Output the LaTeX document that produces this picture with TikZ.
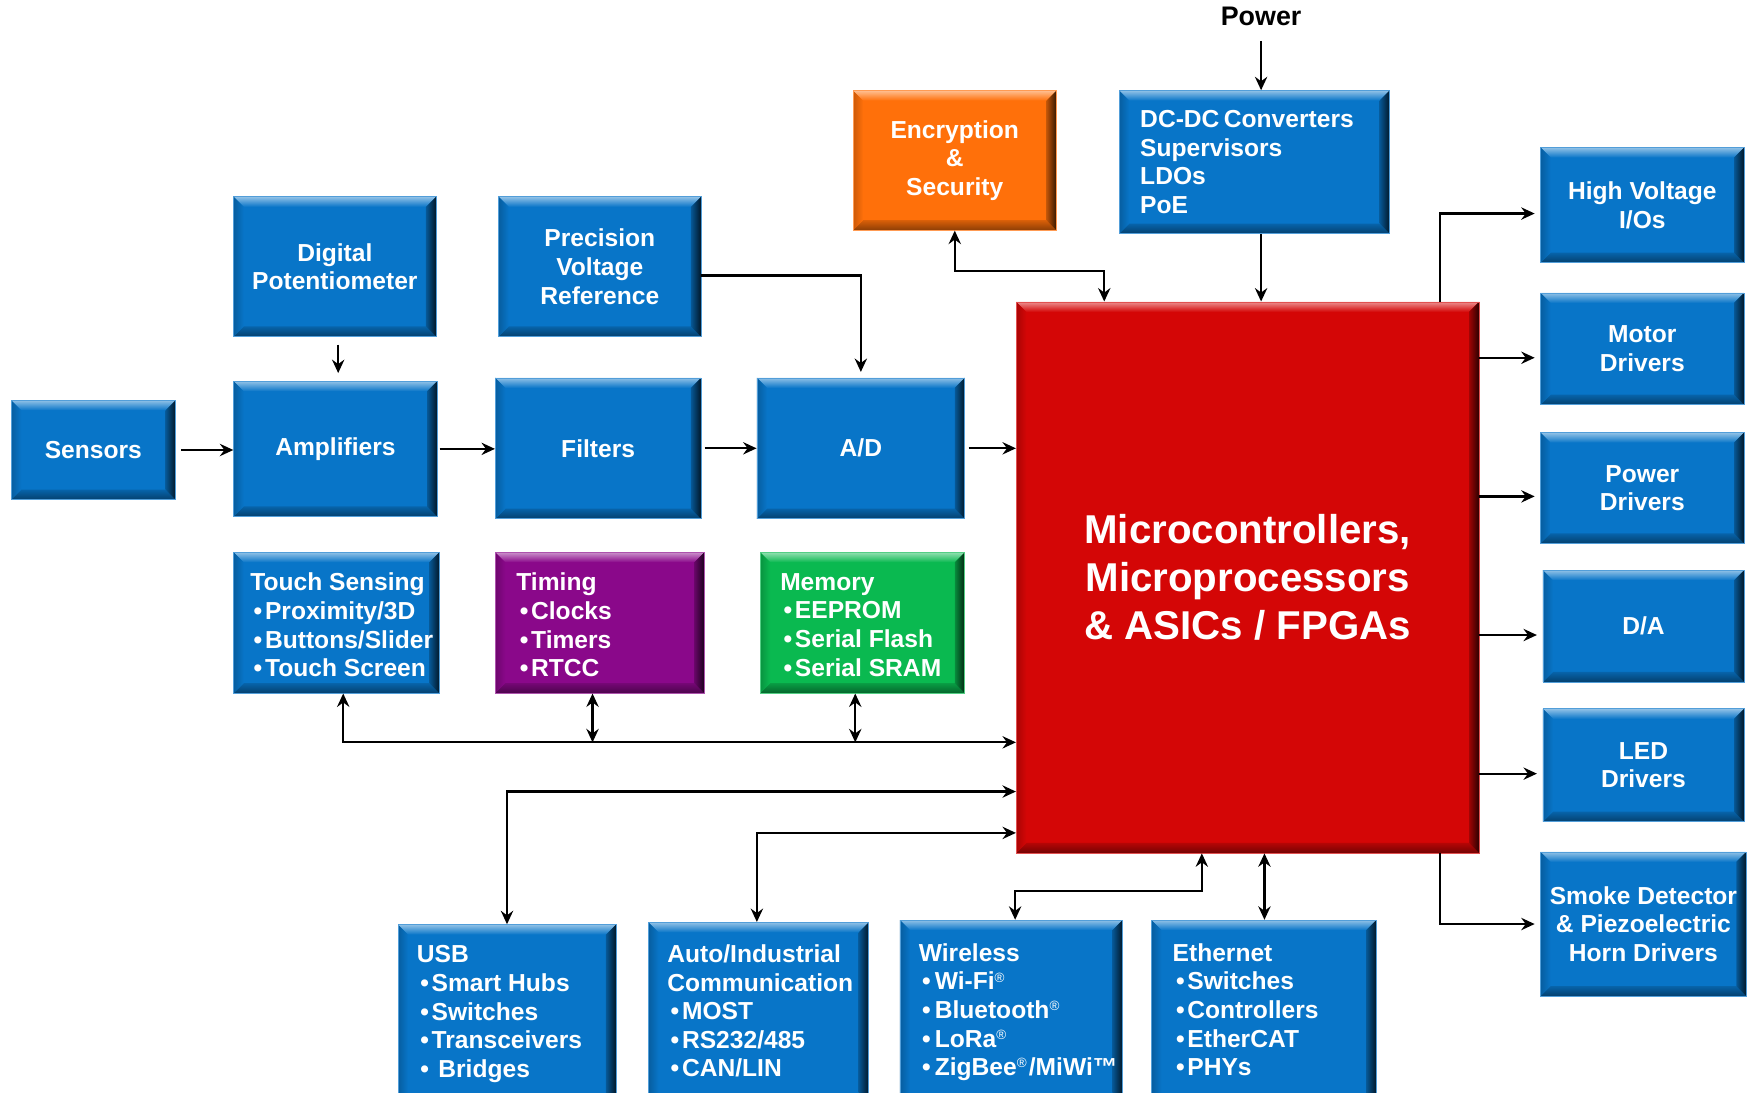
\documentclass[tikz,border=0pt]{standalone}
\usepackage{fontspec}
\setmainfont{Liberation Sans}
\usetikzlibrary{arrows.meta,calc}
\definecolor{mblue}{RGB}{8,117,200}
\definecolor{mred}{RGB}{212,6,6}
\definecolor{morange}{RGB}{255,112,10}
\definecolor{mpurple}{RGB}{138,8,138}
\definecolor{mgreen}{RGB}{10,185,80}
\newcommand\mybul{\kern3pt•\kern2.5pt}
\newcommand\regm{\raisebox{7pt}{\fontsize{12}{12}\selectfont\mdseries ®}}
\tikzset{
  every node/.style={font=\fontsize{22}{25.6}\selectfont\bfseries, text=white},
  bevel/.style={path picture={
    \coordinate (bvNW) at (path picture bounding box.north west);
    \coordinate (bvNE) at (path picture bounding box.north east);
    \coordinate (bvSW) at (path picture bounding box.south west);
    \coordinate (bvSE) at (path picture bounding box.south east);
    \shade[top color=#1!45!white, bottom color=#1] (bvNW) -- (bvNE) -- ([shift={(-9pt,-9pt)}]bvNE) -- ([shift={(9pt,-9pt)}]bvNW) -- cycle;
    \shade[top color=#1!85!black, bottom color=#1!55!black] (bvSW) -- (bvSE) -- ([shift={(-9pt,9pt)}]bvSE) -- ([shift={(9pt,9pt)}]bvSW) -- cycle;
    \shade[left color=#1!75!black, right color=#1!20!black] (bvNE) -- (bvSE) -- ([shift={(-9pt,9pt)}]bvSE) -- ([shift={(-9pt,-9pt)}]bvNE) -- cycle;
    \shade[left color=#1!80!black, right color=#1] (bvNW) -- (bvSW) -- ([shift={(9pt,9pt)}]bvSW) -- ([shift={(9pt,-9pt)}]bvNW) -- cycle;
  }},
  box/.style={rectangle, fill=#1, draw=#1!70!white, line width=0.6pt, inner sep=2pt, align=center, bevel=#1},
  txtl/.style={inner sep=0pt, align=left, text=white},
  arr/.style={draw=black, line width=2pt, -{Stealth[length=12pt,width=11pt,inset=4pt]}},
  dbl/.style={draw=black, line width=2pt, {Stealth[length=12pt,width=11pt,inset=4pt]}-{Stealth[length=12pt,width=11pt,inset=4pt]}},
}
\begin{document}
\begin{tikzpicture}[x=1pt,y=-1pt]
\clip (0,0) rectangle (1568,977);
\fill[white] (0,0) rectangle (1568,977);

% input chain
\node[box=mblue, minimum width=147pt, minimum height=89pt] (sensors) at (83.5,402.5) {Sensors};
\node[box=mblue, minimum width=181pt, minimum height=125pt] (dpot) at (299.5,238.5) {Digital\\Potentiometer};
\node[box=mblue, minimum width=181pt, minimum height=125pt] (pvr) at (536.5,238.5) {Precision\\Voltage\\Reference};
\node[box=mblue, minimum width=182pt, minimum height=121pt] (amp) at (300,401.5) {Amplifiers};
\node[box=mblue, minimum width=184pt, minimum height=126pt] (filt) at (535,401) {Filters};
\node[box=mblue, minimum width=186pt, minimum height=126pt] (adc) at (770,401) {A/D};

% top
\node[box=morange, minimum width=182pt, minimum height=125pt] (enc) at (854,143.5) {Encryption\\\&\\Security};
\node[box=mblue, minimum width=242pt, minimum height=128pt] (dcdc) at (1122,145) {};
\node[txtl, anchor=west] (dcdctxt) at ([xshift=19pt]dcdc.west) {DC-DC\kern4pt Converters\\Supervisors\\LDOs\\PoE};
\node[font=\fontsize{24}{28}\selectfont\bfseries, text=black, inner sep=0pt] (power) at (1128,15) {Power};

% MCU
\node[box=mred, minimum width=414pt, minimum height=493pt, font=\fontsize{36}{43}\selectfont\bfseries] (mcu) at (1116,516.5) {Microcontrollers,\\Microprocessors\\\& ASICs / FPGAs};

% right column
\node[box=mblue, minimum width=182pt, minimum height=103pt] (hv) at (1469,183.5) {High Voltage\\I/Os};
\node[box=mblue, minimum width=182pt, minimum height=100pt] (motor) at (1469,312) {Motor\\Drivers};
\node[box=mblue, minimum width=182pt, minimum height=99pt] (pdrv) at (1469,436.5) {Power\\Drivers};
\node[box=mblue, minimum width=180pt, minimum height=100pt] (dac) at (1470,560) {D/A};
\node[box=mblue, minimum width=180pt, minimum height=101pt] (led) at (1470,684.5) {LED\\Drivers};
\node[box=mblue, minimum width=184pt, minimum height=129pt] (smoke) at (1470,826.5) {Smoke Detector\\\& Piezoelectric\\Horn Drivers};

% middle row
\node[box=mblue, minimum width=184pt, minimum height=126pt] (touch) at (301,557) {};
\node[txtl, anchor=west] (touchtxt) at ([xshift=15pt,yshift=-2pt]touch.west) {Touch Sensing\\\mybul Proximity/3D\\\mybul Buttons/Slider\\\mybul Touch Screen};
\node[box=mpurple, minimum width=187pt, minimum height=126pt] (timing) at (536.5,557) {};
\node[txtl, anchor=west] (timingtxt) at ([xshift=19pt,yshift=-2pt]timing.west) {Timing\\\mybul Clocks\\\mybul Timers\\\mybul RTCC};
\node[box=mgreen, minimum width=183pt, minimum height=126pt] (mem) at (771.5,557) {};
\node[txtl, anchor=west] (memtxt) at ([xshift=18pt,yshift=-2pt]mem.west) {Memory\\\mybul EEPROM\\\mybul Serial Flash\\\mybul Serial SRAM};

% bottom row
\node[box=mblue, minimum width=195pt, minimum height=173pt] (usb) at (453.5,913.5) {};
\node[txtl, anchor=north west] (usbtxt) at ([xshift=17pt,yshift=-19pt]usb.north west) {USB\\\mybul Smart Hubs\\\mybul Switches\\\mybul Transceivers\\\mybul\kern6pt Bridges};
\node[box=mblue, minimum width=197pt, minimum height=175pt] (auto) at (678.5,912.5) {};
\node[txtl, anchor=north west] (autotxt) at ([xshift=17pt,yshift=-20pt]auto.north west) {Auto/Industrial\\Communication\\\mybul MOST\\\mybul RS232/485\\\mybul CAN/LIN};
\node[box=mblue, minimum width=199pt, minimum height=177pt] (wless) at (904.5,911.5) {};
\node[txtl, anchor=north west] (wlesstxt) at ([xshift=17pt,yshift=-21pt]wless.north west) {Wireless\\\mybul\kern1pt Wi-Fi\regm\\\mybul\kern1pt Bluetooth\regm\\\mybul\kern1pt LoRa\regm\\\mybul\kern1pt ZigBee\regm\kern2pt/MiWi™};
\node[box=mblue, minimum width=201pt, minimum height=177pt] (eth) at (1130.5,911.5) {};
\node[txtl, anchor=north west] (ethtxt) at ([xshift=19pt,yshift=-21pt]eth.north west) {Ethernet\\\mybul Switches\\\mybul Controllers\\\mybul EtherCAT\\\mybul PHYs};

% connectors
\coordinate (busR) at ([yshift=-147.5pt]mcu.west);
\draw[arr, shorten <=13pt] (power.south) -- (power.south |- dcdc.north);
\draw[arr] ([xshift=6pt]dcdc.south) -- ([xshift=6pt]dcdc.south |- mcu.north);
\draw[dbl] (enc.south) -- ++(0,36) -| ([xshift=79pt]mcu.north west);
\draw[arr, shorten >=5pt] ([yshift=-8pt]pvr.east) -| (adc.north);
\draw[arr, shorten <=5pt] (sensors.east) -- (sensors.east -| amp.west);
\draw[arr, shorten <=2pt] (amp.east) -- (amp.east -| filt.west);
\draw[arr, shorten <=3pt] (filt.east) -- (filt.east -| adc.west);
\draw[arr, shorten <=3pt] (adc.east) -- (adc.east -| mcu.west);
\draw[arr, shorten <=7pt, shorten >=7pt] ([xshift=3pt]dpot.south) -- ([xshift=3pt]dpot.south |- amp.north);

\draw[arr, shorten >=5pt] ([xshift=-35pt]mcu.north east) |- ([yshift=-7.5pt]hv.west);
\draw[arr, shorten >=5pt] ([yshift=-8pt]motor.west -| mcu.east) -- ([yshift=-8pt]motor.west);
\draw[arr, shorten >=5pt] ([yshift=-7.5pt]pdrv.west -| mcu.east) -- ([yshift=-7.5pt]pdrv.west);
\draw[arr, shorten >=5pt] ([yshift=-8pt]dac.west -| mcu.east) -- ([yshift=-8pt]dac.west);
\draw[arr, shorten >=5pt] ([yshift=-7.5pt]led.west -| mcu.east) -- ([yshift=-7.5pt]led.west);
\draw[arr, shorten >=5pt] ([xshift=-35pt]mcu.south east) |- (smoke.west);

\draw[dbl] ([xshift=6pt]touch.south) |- (busR);
\draw[dbl] ([xshift=-6.5pt]timing.south) -- ([xshift=-6.5pt]timing.south |- busR);
\draw[dbl] ([xshift=-6.5pt]mem.south) -- ([xshift=-6.5pt]mem.south |- busR);

\draw[dbl] (usb.north) |- ([yshift=-191.5pt]mcu.west);
\draw[dbl] ([xshift=-1.5pt]auto.north) |- ([yshift=-228.5pt]mcu.west);
\draw[dbl] ([xshift=-41pt]mcu.south) -- ++(0,34) -| ([xshift=3.5pt]wless.north);
\draw[dbl] ([xshift=0.5pt]eth.north) -- ([xshift=0.5pt]eth.north |- mcu.south);
\end{tikzpicture}
\end{document}
